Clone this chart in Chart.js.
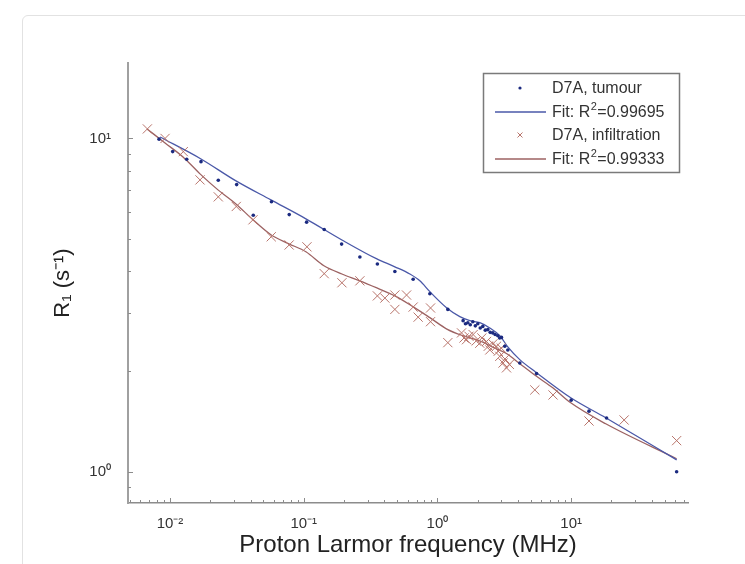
<!DOCTYPE html>
<html><head><meta charset="utf-8">
<script src="https://cdn.jsdelivr.net/npm/chart.js@4"></script>
<style>
html,body{margin:0;padding:0;background:#fff;width:745px;height:564px;overflow:hidden;}
#frame{position:absolute;left:22px;top:15px;width:800px;height:620px;border:1px solid #e2e2e2;border-radius:6px;}
#wrap{position:absolute;left:0;top:0;width:745px;height:564px;}
</style></head><body>
<div id="frame"></div>
<div id="wrap"><canvas id="c" width="745" height="564"></canvas></div>
<script>
// ---- data (frequency in MHz, R1 in 1/s) ----
const tumourFreq = [0.00828,0.01047,0.01333,0.01705,0.02296,0.0315,0.04194,0.05736,0.0779,0.1051,0.1423,0.192,0.263,0.3555,0.4804,0.6583,0.8775,1.196,
  1.556,1.62,1.687,1.76,1.839,1.92,2.004,2.09,2.184,2.28,2.381,2.48,2.594,2.70,2.828,2.92,3.014,3.19,3.36,4.13,5.51,10.0,13.6,18.4,61.5];
const tumourR1 = [9.95,9.13,8.66,8.52,7.49,7.27,5.88,6.46,5.91,5.61,5.33,4.82,4.41,4.20,3.99,3.78,3.42,3.07,
  2.84,2.78,2.80,2.76,2.82,2.74,2.78,2.70,2.73,2.66,2.67,2.62,2.61,2.58,2.56,2.52,2.53,2.38,2.32,2.12,1.97,1.64,1.52,1.45,1.00];
const infilFreq = [0.00677,0.00918,0.01257,0.01676,0.02296,0.03129,0.04172,0.05716,0.0778,0.1057,0.1423,0.193,0.263,0.3555,0.4045,0.4804,0.5875,0.4804,0.6583,0.7173,0.888,0.888,1.196,
  1.514,1.58,1.65,1.72,1.849,1.95,2.074,2.15,2.328,2.40,2.464,2.60,2.765,2.85,2.926,3.0,3.097,3.20,3.284,3.45,5.35,7.32,13.6,24.9,61.5];
const infilR1 = [10.68,10.0,9.13,7.51,6.68,6.25,5.70,5.07,4.79,4.73,3.93,3.69,3.74,3.37,3.32,3.39,3.39,3.07,3.12,2.91,3.10,2.82,2.44,
  2.61,2.52,2.49,2.55,2.58,2.47,2.43,2.52,2.46,2.38,2.32,2.42,2.38,2.30,2.22,2.35,2.12,2.18,2.05,2.10,1.76,1.70,1.42,1.43,1.24];
const tumourFitFreq = [0.00842,0.01705,0.03113,0.05686,0.1038,0.193,0.3524,0.4804,0.6218,0.7386,0.8774,1.176,1.47,1.747,2.074,2.464,2.927,3.359,4.129,5.438,9.93,18.14,61.53];
const tumourFitR1 = [10.10,8.68,7.46,6.54,5.74,4.96,4.35,4.12,3.92,3.74,3.47,3.10,2.92,2.84,2.80,2.70,2.56,2.37,2.17,1.99,1.667,1.452,1.086];
const infilFitFreq = [0.00673,0.00918,0.01251,0.01676,0.02284,0.03113,0.04172,0.05686,0.07751,0.1038,0.1416,0.193,0.263,0.3524,0.4804,0.6549,0.8774,1.176,1.548,2.074,2.685,3.302,4.129,5.438,7.288,9.93,18.14,61.53];
const infilFitR1 = [10.68,9.69,8.80,7.83,7.01,6.36,5.70,5.14,4.83,4.57,4.15,3.92,3.74,3.56,3.37,3.13,2.90,2.68,2.56,2.47,2.35,2.26,2.11,1.94,1.786,1.61,1.393,1.094];
const legendLabels = ['D7A, tumour','Fit: R^2=0.99695','D7A, infiltration','Fit: R^2=0.99333'];
const xRange = [0.00485, 74.8];
const yRange = [0.806, 16.84];
const xTitle = 'Proton Larmor frequency (MHz)';
const yTitle = 'R\u2081 (s\u207B\u00B9)';

const supMap = {'-':'\u207B','0':'\u2070','1':'\u00B9','2':'\u00B2','3':'\u00B3'};
function powLabel(v){
  const l = Math.log10(v), r = Math.round(l);
  if (Math.abs(l - r) > 1e-6) return '';
  return '10' + String(r).split('').map(c=>supMap[c]).join('');
}
const pts = (xs, ys) => xs.map((x,i)=>({x:x, y:ys[i]}));
const FONT = 'Liberation Sans, Arial, sans-serif';

const tickMarks = {
  id:'tickMarks',
  afterDatasetsDraw(chart){
    const ctx = chart.ctx, ca = chart.chartArea;
    const xs = chart.scales.x, ys = chart.scales.y;
    ctx.save();
    ctx.strokeStyle = '#8c8c8c'; ctx.lineWidth = 1;
    for (let e=-3; e<=2; e++) for (let m=1; m<=9; m++){
      const v = m*Math.pow(10,e), len = m===1 ? 5 : 3;
      if (v>=xs.min && v<=xs.max){
        const p = Math.round(xs.getPixelForValue(v))+0.5;
        ctx.beginPath(); ctx.moveTo(p, ca.bottom); ctx.lineTo(p, ca.bottom-len); ctx.stroke();
      }
      if (v>=ys.min && v<=ys.max){
        const p = Math.round(ys.getPixelForValue(v))+0.5;
        ctx.beginPath(); ctx.moveTo(ca.left, p); ctx.lineTo(ca.left+len, p); ctx.stroke();
      }
    }
    ctx.restore();
  }
};

const legendBox = {
  id:'legendBox',
  afterDraw(chart){
    const ctx = chart.ctx;
    const x0 = 483, y0 = 73, w = 196, h = 99;
    ctx.save();
    ctx.fillStyle = '#fff'; ctx.fillRect(x0, y0, w, h);
    ctx.strokeStyle = '#7a7a7a'; ctx.lineWidth = 1.5; ctx.strokeRect(x0+0.5, y0+0.5, w, h);
    const rowY = [88, 112, 135, 159];
    chart.data.datasets.forEach((ds, i) => {
      const y = rowY[i];
      if (ds.showLine){
        ctx.strokeStyle = ds.borderColor; ctx.lineWidth = ds.borderWidth;
        ctx.beginPath(); ctx.moveTo(495, y); ctx.lineTo(546, y); ctx.stroke();
      } else if (ds.pointStyle === 'crossRot'){
        ctx.strokeStyle = ds.borderColor; ctx.lineWidth = 1;
        const r = 2.5;
        ctx.beginPath(); ctx.moveTo(520-r, y-r); ctx.lineTo(520+r, y+r); ctx.moveTo(520-r, y+r); ctx.lineTo(520+r, y-r); ctx.stroke();
      } else {
        ctx.fillStyle = ds.backgroundColor;
        ctx.beginPath(); ctx.arc(520, y, 1.6, 0, Math.PI*2); ctx.fill();
      }
      ctx.fillStyle = '#333'; ctx.textBaseline = 'middle';
      const parts = legendLabels[i].split('^');
      let x = 552;
      ctx.font = '16px ' + FONT;
      ctx.fillText(parts[0], x, y+1); x += ctx.measureText(parts[0]).width;
      if (parts.length > 1){
        const sup = parts[1][0], rest = parts[1].slice(1);
        ctx.font = '11px ' + FONT; ctx.fillText(sup, x+0.5, y-5); x += ctx.measureText(sup).width + 1;
        ctx.font = '16px ' + FONT; ctx.fillText(rest, x, y+1);
      }
    });
    ctx.restore();
  }
};

new Chart(document.getElementById('c'), {
  type: 'scatter',
  data: { datasets: [
    { label: legendLabels[0], data: pts(tumourFreq, tumourR1), pointStyle:'circle', pointRadius:1.8, backgroundColor:'#1b2a80', borderColor:'#1b2a80', borderWidth:0, order:0 },
    { label: legendLabels[1], data: pts(tumourFitFreq, tumourFitR1), showLine:true, pointRadius:0, borderColor:'#4a58a8', backgroundColor:'#4a58a8', borderWidth:1.3, cubicInterpolationMode:'monotone', order:1 },
    { label: legendLabels[2], data: pts(infilFreq, infilR1), pointStyle:'crossRot', pointRadius:6.5, borderColor:'#b8746b', backgroundColor:'#b8746b', borderWidth:1, order:0 },
    { label: legendLabels[3], data: pts(infilFitFreq, infilFitR1), showLine:true, pointRadius:0, borderColor:'#9c6262', backgroundColor:'#9c6262', borderWidth:1.3, cubicInterpolationMode:'monotone', order:1 }
  ]},
  options: {
    responsive:false, animation:false, devicePixelRatio:1,
    layout:{ padding:{ left:0, right:57, top:63, bottom:0 } },
    plugins:{ legend:{display:false}, tooltip:{enabled:false} },
    scales:{
      x:{ type:'logarithmic', min:xRange[0], max:xRange[1],
        grid:{display:false}, border:{display:true, color:'#8c8c8c', width:1.5},
        ticks:{ autoSkip:false, maxRotation:0, padding:4, color:'#333', font:{family:FONT, size:15}, callback:(v)=>powLabel(v) },
        title:{ display:true, text:xTitle, color:'#222', font:{family:FONT, size:24}, padding:{top:0, bottom:4} },
        afterFit:(s)=>{ s.height = 61; }
      },
      y:{ type:'logarithmic', min:yRange[0], max:yRange[1],
        grid:{display:false}, border:{display:true, color:'#a0a0a0', width:2},
        ticks:{ autoSkip:false, padding:9, color:'#333', font:{family:FONT, size:15}, callback:(v)=>powLabel(v) },
        title:{ display:true, text:yTitle, color:'#222', font:{family:FONT, size:22}, padding:{top:50, bottom:0} },
        afterFit:(s)=>{ s.width = 128; }
      }
    }
  },
  plugins:[tickMarks, legendBox]
});
</script>
</body></html>
